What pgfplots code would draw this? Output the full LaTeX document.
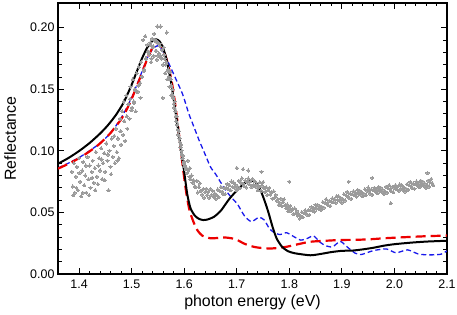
\documentclass[border=0pt]{standalone}
\usepackage{fontspec}
\setmainfont{Liberation Sans}
\usepackage{pgfplots}
\pgfplotsset{compat=1.18}
\definecolor{dotgray}{RGB}{155,155,155}
\definecolor{myred}{RGB}{236,0,0}
\definecolor{myblue}{RGB}{25,25,235}
\begin{document}
\begin{tikzpicture}
\begin{axis}[
  at={(0,0)}, anchor=south west,
  scale only axis, width=389bp, height=271bp,
  xmin=1.36, xmax=2.1, ymin=0, ymax=0.22,
  xtick={1.4,1.5,1.6,1.7,1.8,1.9,2.0,2.1},
  ytick={0,0.05,0.10,0.15,0.20},
  minor x tick num=4, minor y tick num=4,
  tick align=inside,
  xtick pos=both, ytick pos=both,
  major tick length=6bp, minor tick length=3.5bp,
  every tick/.style={black, line width=0.8bp},
  axis line style={line width=1.2bp},
  /pgf/number format/assume math mode=true,
  tick label style={font=\fontsize{12.5}{14}\selectfont},
  xticklabel style={/pgf/number format/.cd, fixed, fixed zerofill, precision=1, /tikz/.cd, yshift=-2.5bp},
  yticklabel style={/pgf/number format/.cd, fixed, fixed zerofill, precision=2},
  scaled y ticks=false,
  xlabel={photon energy (eV)},
  ylabel={Reflectance},
  label style={font=\fontsize{16}{19}\selectfont},
  xlabel style={at={(axis description cs:0.5,-0.12)}, anchor=base},
  ylabel style={at={(axis description cs:-0.108,0.5)}, anchor=base, rotate=0},
  clip=true,
]
\addplot[only marks, mark=*, mark size=1.6bp, color=dotgray, mark options={draw=dotgray, fill=dotgray, line width=0pt}] table {
x y
1.386 0.083
1.388 0.071
1.390 0.090
1.392 0.066
1.394 0.079
1.396 0.087
1.398 0.068
1.400 0.094
1.402 0.075
1.404 0.063
1.406 0.084
1.408 0.091
1.410 0.072
1.412 0.080
1.414 0.066
1.416 0.095
1.418 0.077
1.420 0.088
1.422 0.070
1.424 0.083
1.426 0.092
1.428 0.074
1.430 0.086
1.432 0.099
1.434 0.079
1.436 0.073
1.438 0.094
1.440 0.084
1.442 0.102
1.444 0.077
1.446 0.090
1.448 0.098
1.450 0.083
1.452 0.106
1.454 0.092
1.456 0.068
1.458 0.100
1.460 0.087
1.462 0.110
1.464 0.095
1.466 0.104
1.468 0.090
1.470 0.118
1.472 0.099
1.474 0.110
1.476 0.094
1.478 0.126
1.480 0.105
1.482 0.132
1.484 0.113
1.486 0.124
1.488 0.108
1.490 0.145
1.492 0.118
1.494 0.138
1.496 0.126
1.498 0.152
1.500 0.133
1.502 0.158
1.504 0.140
1.506 0.150
1.508 0.132
1.510 0.163
1.512 0.148
1.514 0.168
1.516 0.155
1.518 0.172
1.520 0.160
1.522 0.190
1.524 0.166
1.526 0.193
1.528 0.175
1.530 0.186
1.532 0.180
1.534 0.178
1.536 0.188
1.538 0.175
1.540 0.184
1.542 0.177
1.544 0.190
1.546 0.181
1.548 0.174
1.550 0.188
1.552 0.179
1.554 0.185
1.556 0.176
1.558 0.182
1.560 0.170
1.562 0.178
1.564 0.163
1.566 0.172
1.568 0.158
1.570 0.166
1.572 0.152
1.574 0.158
1.576 0.145
1.578 0.150
1.580 0.138
1.582 0.140
1.584 0.128
1.586 0.128
1.588 0.117
1.590 0.116
1.592 0.107
1.594 0.105
1.596 0.097
1.598 0.096
1.600 0.091
1.602 0.088
1.604 0.086
1.606 0.082
1.608 0.084
1.610 0.079
1.612 0.077
1.614 0.080
1.616 0.074
1.618 0.076
1.620 0.071
1.389 0.064
1.395 0.070
1.401 0.082
1.407 0.066
1.413 0.088
1.419 0.064
1.425 0.078
1.431 0.068
1.437 0.088
1.443 0.093
1.449 0.076
1.455 0.097
1.461 0.081
1.467 0.112
1.473 0.092
1.479 0.116
1.485 0.140
1.491 0.128
1.497 0.142
1.501 0.135
1.505 0.139
1.509 0.148
1.513 0.153
1.517 0.143
1.519 0.160
1.523 0.165
1.527 0.175
1.531 0.181
1.535 0.186
1.537 0.172
1.539 0.191
1.541 0.185
1.543 0.195
1.545 0.189
1.547 0.181
1.549 0.201
1.551 0.177
1.553 0.187
1.555 0.201
1.557 0.175
1.559 0.143
1.561 0.184
1.563 0.175
1.565 0.170
1.567 0.196
1.569 0.165
1.571 0.160
1.573 0.164
1.575 0.153
1.577 0.146
1.579 0.143
1.581 0.135
1.583 0.132
1.585 0.124
1.587 0.121
1.589 0.113
1.591 0.110
1.593 0.103
1.595 0.100
1.597 0.094
1.599 0.090
1.601 0.087
1.603 0.085
1.607 0.092
1.611 0.086
1.622 0.0706
1.624 0.0756
1.626 0.0662
1.628 0.0706
1.630 0.0735
1.632 0.0676
1.634 0.0644
1.636 0.0688
1.638 0.0619
1.640 0.0665
1.642 0.0693
1.644 0.0641
1.646 0.0669
1.648 0.0617
1.650 0.0690
1.652 0.0641
1.654 0.0676
1.656 0.0629
1.658 0.0654
1.660 0.0610
1.662 0.0639
1.664 0.0686
1.666 0.0625
1.668 0.0672
1.670 0.0706
1.672 0.0667
1.674 0.0650
1.676 0.0701
1.678 0.0649
1.680 0.0700
1.682 0.0731
1.684 0.0690
1.686 0.0721
1.688 0.0680
1.690 0.0751
1.692 0.0708
1.694 0.0742
1.696 0.0699
1.698 0.0723
1.700 0.0680
1.702 0.0709
1.704 0.0756
1.706 0.0695
1.708 0.0742
1.710 0.0776
1.712 0.0733
1.714 0.0712
1.716 0.0759
1.718 0.0703
1.720 0.0750
1.722 0.0775
1.724 0.0728
1.726 0.0753
1.728 0.0706
1.730 0.0771
1.732 0.0724
1.734 0.0754
1.736 0.0707
1.738 0.0727
1.740 0.0680
1.742 0.0703
1.744 0.0744
1.746 0.0677
1.748 0.0718
1.750 0.0746
1.752 0.0695
1.754 0.0666
1.756 0.0705
1.758 0.0641
1.760 0.0680
1.762 0.0699
1.764 0.0646
1.766 0.0665
1.768 0.0612
1.770 0.0671
1.772 0.0619
1.774 0.0643
1.776 0.0593
1.778 0.0607
1.780 0.0560
1.782 0.0578
1.784 0.0612
1.786 0.0550
1.788 0.0584
1.790 0.0606
1.792 0.0559
1.794 0.0533
1.796 0.0564
1.798 0.0510
1.800 0.0539
1.802 0.0554
1.804 0.0513
1.806 0.0528
1.808 0.0487
1.810 0.0533
1.812 0.0493
1.814 0.0512
1.816 0.0474
1.818 0.0485
1.820 0.0450
1.822 0.0470
1.824 0.0502
1.826 0.0462
1.828 0.0494
1.830 0.0517
1.832 0.0492
1.834 0.0481
1.836 0.0518
1.838 0.0479
1.840 0.0519
1.842 0.0544
1.844 0.0513
1.846 0.0538
1.848 0.0507
1.850 0.0563
1.852 0.0532
1.854 0.0561
1.856 0.0530
1.858 0.0551
1.860 0.0520
1.862 0.0545
1.864 0.0584
1.866 0.0539
1.868 0.0578
1.870 0.0607
1.872 0.0574
1.874 0.0558
1.876 0.0595
1.878 0.0552
1.880 0.0589
1.882 0.0614
1.884 0.0583
1.886 0.0608
1.888 0.0577
1.890 0.0633
1.892 0.0601
1.894 0.0630
1.896 0.0595
1.898 0.0617
1.900 0.0580
1.902 0.0607
1.904 0.0648
1.906 0.0597
1.908 0.0638
1.910 0.0666
1.912 0.0631
1.914 0.0616
1.916 0.0654
1.918 0.0611
1.920 0.0649
1.922 0.0672
1.924 0.0639
1.926 0.0662
1.928 0.0629
1.930 0.0683
1.932 0.0650
1.934 0.0677
1.936 0.0644
1.938 0.0663
1.940 0.0630
1.942 0.0652
1.944 0.0688
1.946 0.0640
1.948 0.0676
1.950 0.0702
1.952 0.0668
1.954 0.0651
1.956 0.0687
1.958 0.0643
1.960 0.0679
1.962 0.0701
1.964 0.0667
1.966 0.0689
1.968 0.0655
1.970 0.0708
1.972 0.0674
1.974 0.0700
1.976 0.0666
1.978 0.0684
1.980 0.0650
1.982 0.0672
1.984 0.0708
1.986 0.0660
1.988 0.0696
1.990 0.0722
1.992 0.0688
1.994 0.0671
1.996 0.0707
1.998 0.0663
2.000 0.0699
2.002 0.0721
2.004 0.0687
2.006 0.0709
2.008 0.0675
2.010 0.0728
2.012 0.0694
2.014 0.0720
2.016 0.0686
2.018 0.0704
2.020 0.0670
2.022 0.0693
2.024 0.0730
2.026 0.0683
2.028 0.0720
2.030 0.0747
2.032 0.0714
2.034 0.0698
2.036 0.0735
2.038 0.0692
2.040 0.0729
2.042 0.0751
2.044 0.0717
2.046 0.0739
2.048 0.0705
2.050 0.0758
2.052 0.0724
2.054 0.0750
2.056 0.0716
2.058 0.0734
2.060 0.0700
2.062 0.0722
2.064 0.0758
2.066 0.0710
2.068 0.0746
2.070 0.0771
2.072 0.0737
2.074 0.0720
1.700 0.0860
1.712 0.0850
1.722 0.0840
1.747 0.0830
1.800 0.0750
1.913 0.0750
1.958 0.0780
1.993 0.0575
2.063 0.0820
};
\addplot[color=myblue, line width=1.3bp, dash pattern=on 5bp off 3bp, smooth, tension=0.4] coordinates {
(1.360,0.0860) (1.380,0.0900) (1.400,0.0945) (1.420,0.1000) (1.440,0.1062)
(1.460,0.1145) (1.480,0.1265) (1.500,0.1430) (1.515,0.1590) (1.530,0.1755)
(1.540,0.1825) (1.549,0.1853) (1.557,0.1825) (1.568,0.1735) (1.584,0.1585)
(1.597,0.1460) (1.609,0.1300) (1.619,0.1190) (1.628,0.1090) (1.638,0.0990)
(1.650,0.0870) (1.660,0.0810) (1.670,0.0740) (1.679,0.0680) (1.690,0.0620)
(1.701,0.0570) (1.715,0.0470) (1.728,0.0425) (1.742,0.0460) (1.752,0.0440)
(1.762,0.0370) (1.770,0.0340) (1.782,0.0320) (1.795,0.0335) (1.810,0.0300)
(1.822,0.0275) (1.835,0.0290) (1.846,0.0310) (1.858,0.0260) (1.868,0.0232)
(1.882,0.0220) (1.897,0.0265) (1.910,0.0220) (1.925,0.0170) (1.937,0.0158)
(1.960,0.0190) (1.985,0.0203) (2.003,0.0172) (2.025,0.0196) (2.045,0.0163)
(2.065,0.0155) (2.088,0.0160) (2.100,0.0188)
};
\addplot[color=myred, line width=2.2bp, dash pattern=on 10bp off 5bp, smooth, tension=0.4] coordinates {
(1.360,0.0855) (1.380,0.0895) (1.400,0.0940) (1.420,0.0995) (1.440,0.1060)
(1.460,0.1145) (1.480,0.1255) (1.490,0.1330) (1.500,0.1420) (1.510,0.1525)
(1.520,0.1635) (1.530,0.1748) (1.540,0.1840) (1.549,0.1880) (1.556,0.1862) (1.563,0.1790)
(1.570,0.1690) (1.576,0.1570) (1.581,0.1440) (1.586,0.1280) (1.592,0.1070) (1.598,0.0850)
(1.604,0.0660) (1.610,0.0520) (1.618,0.0420) (1.626,0.0350) (1.635,0.0310)
(1.650,0.0290) (1.665,0.0293) (1.676,0.0297) (1.690,0.0290) (1.701,0.0276)
(1.715,0.0245) (1.733,0.0220) (1.750,0.0210) (1.764,0.0207) (1.780,0.0212)
(1.796,0.0222) (1.820,0.0245) (1.840,0.0262) (1.870,0.0270) (1.897,0.0276)
(1.930,0.0278) (1.954,0.0282) (1.980,0.0290) (2.011,0.0297) (2.040,0.0303)
(2.068,0.0308) (2.100,0.0312)
};
\addplot[color=black, line width=2bp, smooth, tension=0.4] coordinates {
(1.360,0.0895) (1.380,0.0942) (1.400,0.0998) (1.420,0.1063) (1.440,0.1140)
(1.455,0.1208) (1.470,0.1290) (1.485,0.1393) (1.500,0.1535)
(1.510,0.1645) (1.520,0.1752) (1.530,0.1840) (1.540,0.1893) (1.547,0.1905)
(1.553,0.1890) (1.559,0.1845) (1.565,0.1765) (1.570,0.1670) (1.575,0.1560)
(1.580,0.1420) (1.585,0.1275) (1.590,0.1130) (1.595,0.0985) (1.600,0.0830)
(1.606,0.0645) (1.612,0.0535) (1.620,0.0475) (1.628,0.0448) (1.636,0.0438)
(1.645,0.0443) (1.657,0.0465) (1.670,0.0515) (1.686,0.0610) (1.704,0.0695)
(1.719,0.0748) (1.728,0.0757) (1.734,0.0752) (1.741,0.0718) (1.748,0.0652)
(1.755,0.0570) (1.761,0.0490) (1.768,0.0385) (1.776,0.0288) (1.786,0.0222)
(1.797,0.0186) (1.811,0.0168) (1.840,0.0152) (1.860,0.0163) (1.880,0.0178) (1.900,0.0188)
(1.920,0.0190) (1.940,0.0200) (1.960,0.0213) (1.980,0.0230) (2.000,0.0242)
(2.030,0.0254) (2.060,0.0263) (2.100,0.0270)
};
\end{axis}
\pgfresetboundingbox
\path[use as bounding box] (-58bp,-41bp) rectangle (399bp,274bp);
\end{tikzpicture}
\end{document}
